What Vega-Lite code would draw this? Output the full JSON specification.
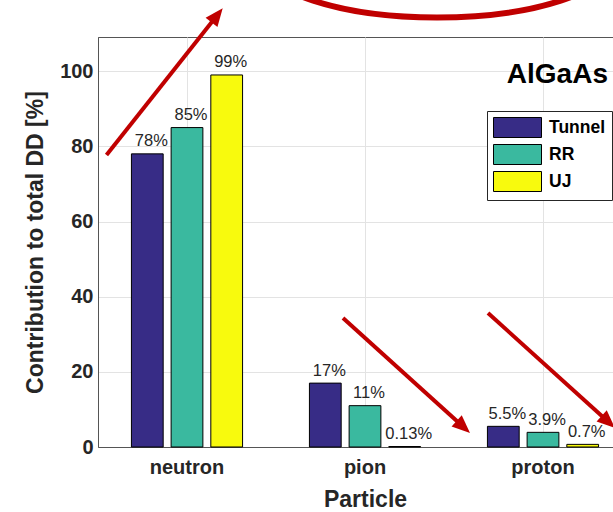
{
  "$schema": "https://vega.github.io/schema/vega-lite/v6.json",
  "width": 534,
  "height": 410,
  "autosize": {"type": "none"},
  "padding": {"left": 98, "top": 37, "right": 0, "bottom": 65},
  "background": "white",
  "config": {"view": {"stroke": "#555555", "strokeWidth": 1}, "font": "Liberation Sans"},
  "datasets": {
    "bars": [
      {"Particle": "neutron", "Source": "Tunnel", "value": 78, "label": "78%"},
      {"Particle": "neutron", "Source": "RR", "value": 85, "label": "85%"},
      {"Particle": "neutron", "Source": "UJ", "value": 99, "label": "99%"},
      {"Particle": "pion", "Source": "Tunnel", "value": 17, "label": "17%"},
      {"Particle": "pion", "Source": "RR", "value": 11, "label": "11%"},
      {"Particle": "pion", "Source": "UJ", "value": 0.13, "label": "0.13%"},
      {"Particle": "proton", "Source": "Tunnel", "value": 5.5, "label": "5.5%"},
      {"Particle": "proton", "Source": "RR", "value": 3.9, "label": "3.9%"},
      {"Particle": "proton", "Source": "UJ", "value": 0.7, "label": "0.7%"}
    ],
    "arrows": [
      {"x": 0.0478, "value": 77.7, "x2": 0.6517, "value2": 113.81},
      {"x": 1.3764, "value": 34.33, "x2": 2.0315, "value2": 6.23},
      {"x": 2.191, "value": 35.66, "x2": 2.8461, "value2": 7.56}
    ],
    "heads": [
      {"x": 0.7006, "value": 116.74, "heading": 38.4},
      {"x": 2.0899, "value": 3.73, "heading": 132.2},
      {"x": 2.9045, "value": 5.06, "heading": 132.2}
    ],
    "ring": [
      {"x": 1.9045, "value": 129.59}
    ],
    "tag": [
      {"x": 2.865, "value": 96.86, "text": "AlGaAs"}
    ]
  },
  "layer": [
    {
      "data": {"name": "bars"},
      "encoding": {
        "x": {
          "field": "Particle", "type": "nominal", "sort": ["neutron", "pion", "proton"],
          "scale": {"paddingInner": 0.331, "paddingOuter": 0.1655},
          "axis": {
            "title": "Particle", "titleFontSize": 23, "titleFontWeight": "bold", "titleColor": "#262626",
            "titlePadding": 11, "labelFontSize": 20, "labelFontWeight": "bold", "labelColor": "#262626",
            "labelPadding": 10, "labelAngle": 0, "ticks": false, "domainColor": "#555555",
            "grid": true, "gridColor": "#e3e3e3", "bandPosition": 0.5
          }
        },
        "xOffset": {
          "field": "Source", "type": "nominal", "sort": ["Tunnel", "RR", "UJ"],
          "scale": {"paddingInner": 0.2, "paddingOuter": 0.1}
        },
        "y": {
          "field": "value", "type": "quantitative",
          "scale": {"domain": [0, 109.1], "nice": false},
          "axis": {
            "title": "Contribution to total DD [%]", "values": [0, 20, 40, 60, 80, 100],
            "titleFontSize": 23, "titleFontWeight": "bold", "titleColor": "#262626", "titlePadding": 12,
            "labelFontSize": 20, "labelFontWeight": "bold", "labelColor": "#262626", "labelPadding": 5,
            "ticks": false, "domainColor": "#555555", "grid": true, "gridColor": "#e3e3e3"
          }
        }
      },
      "layer": [
        {
          "mark": {"type": "bar", "stroke": "black", "strokeWidth": 1},
          "encoding": {
            "color": {
              "field": "Source", "type": "nominal",
              "scale": {"domain": ["Tunnel", "RR", "UJ"], "range": ["#372c86", "#3ab99f", "#f8fa0d"]},
              "legend": {
                "orient": "none", "legendX": 389, "legendY": 74, "title": null,
                "symbolType": "M-1,-1H3.8V1H-1Z", "symbolSize": 400,
                "symbolStrokeColor": "black", "symbolStrokeWidth": 1, "symbolOpacity": 1,
                "labelFontSize": 17.5, "labelFontWeight": "bold", "labelColor": "black",
                "labelFont": "Liberation Sans", "labelOffset": 35, "rowPadding": 2, "padding": 6,
                "strokeColor": "#262626", "fillColor": "white"
              }
            }
          }
        },
        {
          "mark": {"type": "text", "baseline": "alphabetic", "dy": -7.5, "dx": 4, "fontSize": 16.5, "color": "#262626"},
          "encoding": {"text": {"field": "label"}}
        }
      ]
    },
    {
      "data": {"name": "arrows"},
      "mark": {"type": "rule", "color": "#c00000", "strokeWidth": 4, "strokeCap": "butt"},
      "encoding": {
        "x": {"field": "x", "type": "quantitative", "scale": {"domain": [0, 3], "nice": false, "zero": false}, "axis": null},
        "x2": {"field": "x2"},
        "y": {"field": "value", "type": "quantitative", "scale": {"domain": [0, 109.1], "nice": false}, "title": "Contribution to total DD [%]"},
        "y2": {"field": "value2"}
      }
    },
    {
      "data": {"name": "heads"},
      "mark": {"type": "point", "shape": "M0,0L0.42,1L-0.42,1Z", "size": 1296, "filled": true, "color": "#c00000", "opacity": 1, "strokeWidth": 0},
      "encoding": {
        "x": {"field": "x", "type": "quantitative", "scale": {"domain": [0, 3], "nice": false, "zero": false}, "axis": null},
        "y": {"field": "value", "type": "quantitative", "scale": {"domain": [0, 109.1], "nice": false}, "title": "Contribution to total DD [%]"},
        "angle": {"field": "heading", "type": "quantitative", "scale": null}
      }
    },
    {
      "data": {"name": "ring"},
      "mark": {"type": "point", "shape": "M-1,0C-1,-0.1815 -0.5523,-0.3286 0,-0.3286C0.5523,-0.3286 1,-0.1815 1,0C1,0.1815 0.5523,0.3286 0,0.3286C-0.5523,0.3286 -1,0.1815 -1,0Z", "size": 122500, "filled": false, "color": "#c00000", "opacity": 1, "strokeWidth": 6},
      "encoding": {
        "x": {"field": "x", "type": "quantitative", "scale": {"domain": [0, 3], "nice": false, "zero": false}, "axis": null},
        "y": {"field": "value", "type": "quantitative", "scale": {"domain": [0, 109.1], "nice": false}, "title": "Contribution to total DD [%]"}
      }
    },
    {
      "data": {"name": "tag"},
      "mark": {"type": "text", "align": "right", "baseline": "alphabetic", "fontSize": 28, "fontWeight": "bold", "color": "black"},
      "encoding": {
        "x": {"field": "x", "type": "quantitative", "scale": {"domain": [0, 3], "nice": false, "zero": false}, "axis": null},
        "y": {"field": "value", "type": "quantitative", "scale": {"domain": [0, 109.1], "nice": false}, "title": "Contribution to total DD [%]"},
        "text": {"field": "text"}
      }
    }
  ],
  "resolve": {"scale": {"x": "independent"}}
}
